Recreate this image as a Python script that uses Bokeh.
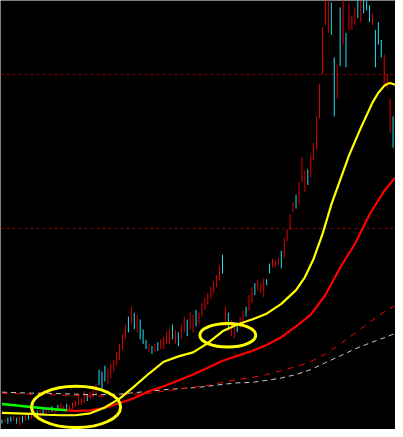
from bokeh.plotting import figure
from bokeh.models import Range1d, FixedTicker, ColumnDataSource
from bokeh.embed import file_html
from bokeh.resources import INLINE

# ---- price bars (bar index 0..133), levels ----
bar_high = [427, 426, 425, 424, 423, 425, 424, 423, 422, 421, 420,
            419, 418, 417, 415, 416, 414, 413, 415, 412, 410, 413, 411, 412, 409, 408, 404,
            405, 398, 401, 399, 396, 390,
            376, 378, 372, 375, 370, 366, 358, 350, 340, 330, 322, 312, 318, 320, 325,
            335, 346, 350, 352, 350, 348, 345, 343, 338,
            335, 330, 336, 338, 330, 322, 325, 318, 320, 315, 318, 308,
            303, 298, 292, 286, 280, 270, 259,
            312, 318, 326, 330, 328, 322, 316, 312, 300, 292, 288, 285, 288, 283, 284,
            268, 263, 265, 262, 255, 242, 233, 218, 205, 198, 185, 160, 173, 172, 158, 145, 118, 85,
            27, -10, -5, 2, 58, 65, 7, -5, 33, 3, 15, 7, -5, 0, -5, 0, 5, 13, 30, 22, 40, 55, 75, 100, 118]
bar_low = [431, 430, 431, 429, 428, 431, 433, 430, 428, 427, 426,
           425, 423, 424, 422, 421, 420, 419, 421, 418, 417, 418, 417, 418, 416, 414, 412,
           412, 410, 408, 406, 404, 402,
           392, 395, 388, 390, 385, 378, 372, 366, 356, 345, 338, 330, 335, 338, 345,
           350, 355, 358, 360, 358, 357, 355, 355, 350,
           350, 345, 350, 352, 345, 338, 342, 335, 338, 332, 330, 322,
           315, 310, 304, 298, 292, 285, 278,
           332, 336, 342, 344, 338, 334, 328, 322, 316, 308, 300, 295, 298, 302, 290,
           278, 272, 272, 270, 273, 262, 245, 234, 215, 212, 208, 185, 195, 188, 180, 163, 152, 120,
           75, 25, 33, 35, 118, 100, 67, 45, 68, 30, 30, 25, 18, 22, 13, 10, 22, 25, 68, 45, 58, 88, 90, 135, 150]
bar_dir = list("crccrcrcrcr"
               "rcrcrrcrcrrcrrrr"
               "rrcrrr"
               "cccrrrrrrrcrcrc"
               "ccrcrcrrr"
               "rcrcrrcrrcrr"
               "rrrrrrc"
               "rcrrcrrcrrcrrrc"
               "crrrcrrrrcrrrcrrrr"
               "rrrccrcrcrrrcrcccrcccrrrc")

# ---- averages / bands ----
ma_idx = [0, 5, 10, 15, 20, 25, 30, 35, 40, 45, 50, 55, 60, 65, 70, 75, 80, 85,
          90, 95, 100, 105, 110, 115, 120, 125, 130, 133, 134]
red_dash = [400, 400.5, 401, 401.5, 402, 402.5, 403, 403, 402, 401, 400, 398, 396, 394,
            392, 389, 386, 384, 381, 377, 373, 368, 360, 350, 339, 328, 317, 312, 311]
grey_dash = [399, 399.5, 400, 400, 400.5, 401, 401.5, 401.5, 401, 399.5, 398, 396.5, 395.5,
             394.5, 393, 391, 389.5, 389, 387, 384.5, 381, 376, 369, 362, 355, 349, 343.5, 340, 339]

yellow_idx = [0, 5, 10, 15, 20, 25, 30, 35, 40, 45, 50, 55, 60, 65, 70, 75, 80, 85, 90, 95,
              100, 103, 106, 109, 112, 115, 118, 120, 122, 124, 126, 128, 130, 131, 132, 133, 134]
yellow_ma = [420, 420.5, 421, 422, 422.5, 422.5, 420.5, 414.5, 405.5, 393, 380, 368, 362.5,
             358.5, 349, 337, 330, 325, 319, 309, 295, 282, 263, 238, 208, 183, 158, 144,
             130, 117, 104, 94, 87, 85, 84, 85, 86]

red_idx = [18, 20, 25, 30, 35, 40, 45, 50, 55, 60, 65, 70, 75, 80, 85, 90, 95, 100, 105,
           110, 115, 120, 125, 130, 133, 134]
red_ma = [417, 417, 418, 417.5, 415, 410, 405, 398, 393, 387, 381, 374, 367, 362, 357, 351,
          343, 332, 320, 300, 272, 248, 218, 194, 183, 180]

green_idx = [0, 5, 10, 15, 20, 22]
green_ma = [411, 412.5, 414, 415.5, 417, 417.5]

grid_levels = [75, 232]

# highlighted zones: centre index, centre level, span in bars, span in level
zone_idx = [25.2, 76.8]
zone_lvl = [414, 341]
zone_w = [30.3, 19.0]
zone_h = [42, 24]

colors = {"r": "#e00000", "c": "#1ee0f5"}

p = figure(width=395, height=429, x_range=Range1d(-0.5, 133.83), y_range=Range1d(437, 0),
           output_backend="svg", toolbar_location=None, min_border=0,
           background_fill_color="black", border_fill_color="black", outline_line_color=None)
p.xaxis.visible = False
p.yaxis.visible = False
p.xgrid.visible = False
p.ygrid.ticker = FixedTicker(ticks=grid_levels)
p.ygrid.grid_line_color = "#800000"
p.ygrid.grid_line_dash = "3 3"
p.ygrid.grid_line_width = 1

bars = ColumnDataSource(dict(x=list(range(len(bar_high))), hi=bar_high, lo=bar_low,
                             c=[colors[d] for d in bar_dir]))
p.segment(x0="x", y0="hi", x1="x", y1="lo", color="c", line_width=1, source=bars)

p.line(ma_idx, grey_dash, line_color="#c8c8c8", line_width=1, line_dash="5 4")
p.line(ma_idx, red_dash, line_color="#ff0000", line_width=1, line_dash="6 6")
p.line(red_idx, red_ma, line_color="#ff0000", line_width=2.2)
p.line(green_idx, green_ma, line_color="#00ff00", line_width=2.5)
p.line(yellow_idx, yellow_ma, line_color="#ffff00", line_width=2.2)

p.ellipse(x=zone_idx, y=zone_lvl, width=zone_w, height=zone_h, fill_color=None,
          line_color="#ffff00", line_width=3)

open("out.html", "w").write(file_html(p, INLINE))
